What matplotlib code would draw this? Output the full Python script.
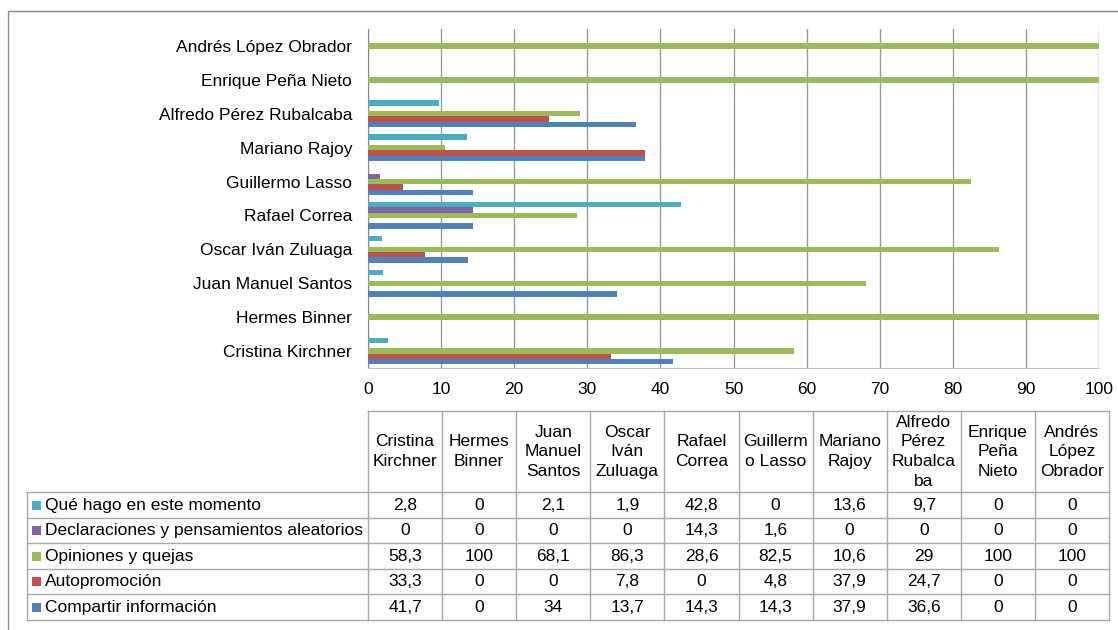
import numpy as np
import matplotlib.pyplot as plt
from matplotlib.patches import Rectangle

plt.rcParams['font.family'] = ['Liberation Sans', 'DejaVu Sans']

# ==========================================
# DATA
# ==========================================
politicians = ['Cristina Kirchner', 'Hermes Binner', 'Juan Manuel Santos',
               'Oscar Iván Zuluaga', 'Rafael Correa', 'Guillermo Lasso',
               'Mariano Rajoy', 'Alfredo Pérez Rubalcaba', 'Enrique Peña Nieto',
               'Andrés López Obrador']
table_headers = ['Cristina\nKirchner', 'Hermes\nBinner', 'Juan\nManuel\nSantos',
                 'Oscar\nIván\nZuluaga', 'Rafael\nCorrea', 'Guillerm\no Lasso',
                 'Mariano\nRajoy', 'Alfredo\nPérez\nRubalca\nba', 'Enrique\nPeña\nNieto',
                 'Andrés\nLópez\nObrador']

series_names = ['Qué hago en este momento',
                'Declaraciones y pensamientos aleatorios',
                'Opiniones y quejas',
                'Autopromoción',
                'Compartir información']
que_hago = [2.8, 0, 2.1, 1.9, 42.8, 0, 13.6, 9.7, 0, 0]
declaraciones = [0, 0, 0, 0, 14.3, 1.6, 0, 0, 0, 0]
opiniones = [58.3, 100, 68.1, 86.3, 28.6, 82.5, 10.6, 29, 100, 100]
autopromocion = [33.3, 0, 0, 7.8, 0, 4.8, 37.9, 24.7, 0, 0]
compartir = [41.7, 0, 34, 13.7, 14.3, 14.3, 37.9, 36.6, 0, 0]

series_values = [que_hago, declaraciones, opiniones, autopromocion, compartir]
colors = ['#4BACC6', '#8064A2', '#9BBB59', '#C0504D', '#4F81BD']

FS = 12.5

# ==========================================
# FIGURE
# ==========================================
W, H = 1118, 630
fig = plt.figure(figsize=(W / 100, H / 100), dpi=100)

# outer frame
fig.patches.append(Rectangle((7.5 / W, -0.1), 1.2, 1.1 - 11.5 / H,
                             transform=fig.transFigure, fill=False,
                             edgecolor='#8a8a8a', lw=1))

ax = fig.add_axes([368 / W, 1 - 368 / H, 731 / W, (368 - 29) / H])

y = np.arange(len(politicians))
bh = 0.157
for j, (vals, col) in enumerate(zip(series_values, colors)):
    ax.barh(y + (2 - j) * bh, vals, height=bh, color=col, zorder=3)

ax.set_xlim(0, 100)
ax.set_ylim(-0.5, len(politicians) - 0.5)
ax.set_xticks(np.arange(0, 101, 10))
ax.set_yticks(y)
ax.set_yticklabels(politicians)
ax.tick_params(axis='both', length=0, labelsize=FS)
ax.tick_params(axis='x', pad=10)
ax.tick_params(axis='y', pad=11.5)
ax.xaxis.grid(True, color='#9a9a9a', lw=1, zorder=0)
for s in ['top', 'right']:
    ax.spines[s].set_visible(False)
ax.spines['left'].set_color('#868686')
ax.spines['bottom'].set_color('#c4c4c4')

# ==========================================
# DATA TABLE
# ==========================================
def fmt(v):
    if float(v).is_integer():
        return str(int(v))
    return f'{v}'.replace('.', ',')

col_w = 74.1
lab_w = (368 - 27) / col_w
row_h = 25.4
head_h = 81 / row_h
n_cols = len(politicians)
n_rows = len(series_names)

tax = fig.add_axes([27 / W, 1 - 620 / H, (1109 - 27) / W, (620 - 411) / H])
tax.set_xlim(-lab_w, n_cols)
tax.set_ylim(n_rows, -head_h)
tax.axis('off')

line_kw = dict(color='#a8a8a8', lw=1, clip_on=False)
for c in range(n_cols + 1):
    tax.plot([c, c], [-head_h, n_rows], **line_kw)
tax.plot([0, n_cols], [-head_h, -head_h], **line_kw)
tax.plot([-lab_w, -lab_w], [0, n_rows], **line_kw)
for r in range(n_rows + 1):
    tax.plot([-lab_w, n_cols], [r, r], **line_kw)

for c, name in enumerate(table_headers):
    tax.text(c + 0.5, -head_h / 2, name, ha='center', va='center',
             fontsize=FS, linespacing=1.38)

for r, (name, vals, col) in enumerate(zip(series_names, series_values, colors)):
    tax.add_patch(Rectangle((-lab_w + 0.065, r + 0.32), 0.12, 0.36,
                            facecolor=col, edgecolor='none'))
    tax.text(-lab_w + 0.24, r + 0.5, name, ha='left', va='center', fontsize=FS)
    for c, v in enumerate(vals):
        tax.text(c + 0.5, r + 0.5, fmt(v), ha='center', va='center', fontsize=FS)

plt.savefig('out.png', dpi=100)
